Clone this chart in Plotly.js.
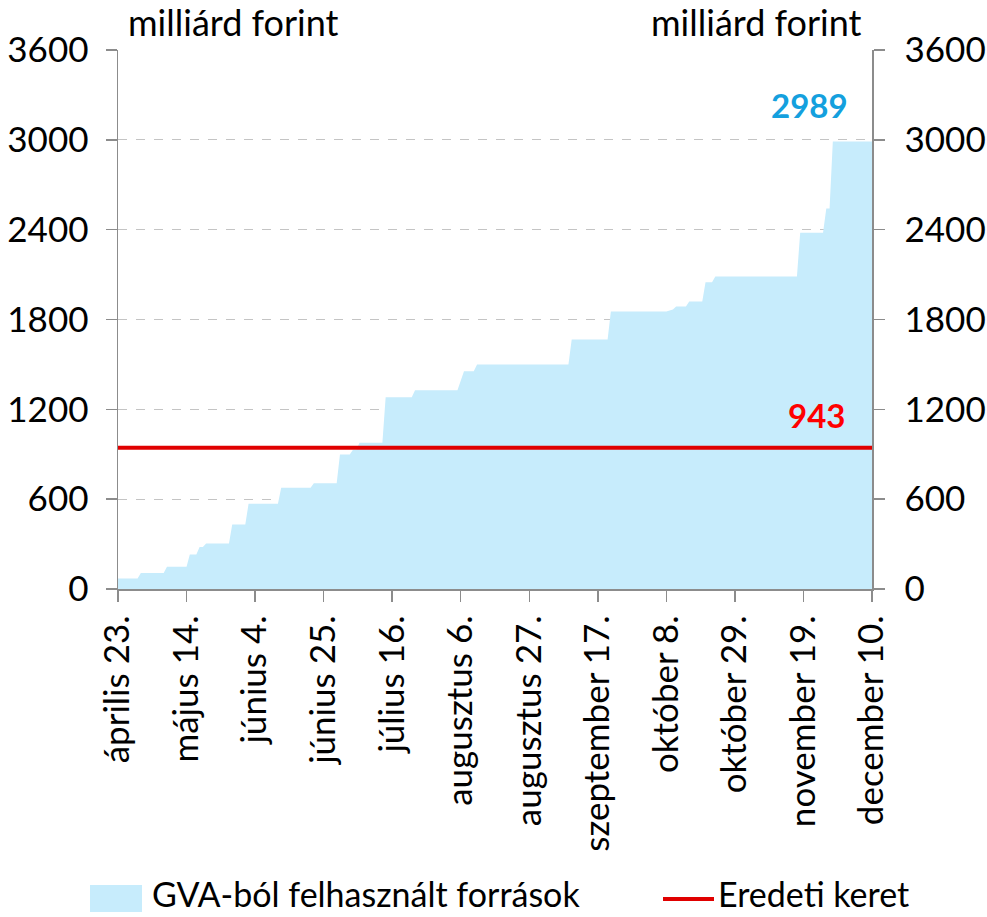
<!DOCTYPE html>
<html>
<head>
<meta charset="utf-8">
<script src="https://cdn.plot.ly/plotly-3.0.1.min.js"></script>
<style>html,body{margin:0;padding:0;background:#fff;}#chart{width:987px;height:917px;}</style>
</head>
<body>
<div id="chart"></div>
<script>
// Dates at which the cumulative amount changes (day before / day of each step)
var dates = [
  '2020-04-23','2020-04-29','2020-04-30','2020-05-07','2020-05-08','2020-05-14','2020-05-15',
  '2020-05-17','2020-05-18','2020-05-19','2020-05-20','2020-05-27','2020-05-28','2020-06-01',
  '2020-06-02','2020-06-11','2020-06-12','2020-06-21','2020-06-22','2020-06-29','2020-06-30',
  '2020-07-03','2020-07-04','2020-07-05','2020-07-06','2020-07-13','2020-07-14','2020-07-22',
  '2020-07-23','2020-08-05','2020-08-07','2020-08-10','2020-08-11','2020-09-08','2020-09-09',
  '2020-09-20','2020-09-21','2020-10-08','2020-10-10','2020-10-11','2020-10-14','2020-10-15',
  '2020-10-19','2020-10-20','2020-10-22','2020-10-23','2020-11-17','2020-11-18','2020-11-25',
  '2020-11-26','2020-11-27','2020-11-28','2020-12-10'
];
// GVA-ból felhasznált források (milliárd forint)
var usedFunds = [
  70, 70, 107, 107, 149, 149, 231,
  231, 280, 280, 304, 304, 431, 431,
  569, 569, 676, 676, 707, 707, 898,
  898, 930, 930, 976, 976, 1280, 1280,
  1327, 1327, 1455, 1455, 1500, 1500, 1667,
  1667, 1853, 1853, 1867, 1887, 1887, 1920,
  1920, 2049, 2049, 2087, 2087, 2380, 2380,
  2542, 2542, 2989, 2989
];
// Eredeti keret
var originalFrame = 943;
var frameDates = ['2020-04-23', '2020-12-10'];

var tickDates = ['2020-04-23','2020-05-14','2020-06-04','2020-06-25','2020-07-16','2020-08-06',
                 '2020-08-27','2020-09-17','2020-10-08','2020-10-29','2020-11-19','2020-12-10'];
var tickLabels = ['április 23.','május 14.','június 4.','június 25.','július 16.','augusztus 6.',
                  'augusztus 27.','szeptember 17.','október 8.','október 29.','november 19.','december 10.'];
var yTicks = [0, 600, 1200, 1800, 2400, 3000, 3600];

var seriesNames = ['GVA-ból felhasznált források', 'Eredeti keret'];
var unitLabel = 'milliárd forint';

var FONT = 'Lato, "Open Sans", "Noto Sans", sans-serif';
var AX = '#8c8c8c';
var FILL = '#c7ecfc';
var RED = '#e00000';

var traces = [
  {
    x: dates, y: usedFunds, type: 'scatter', mode: 'lines',
    fill: 'tozeroy', fillcolor: FILL, line: {width: 0, color: FILL},
    name: seriesNames[0], showlegend: false, hoverinfo: 'x+y'
  },
  {
    x: frameDates, y: [originalFrame, originalFrame], type: 'scatter', mode: 'lines',
    line: {width: 4, color: RED}, name: seriesNames[1], showlegend: false, yaxis: 'y2'
  }
];

var lastVal = usedFunds[usedFunds.length - 1];

var yCommon = {
  range: [0, 3600], tickvals: yTicks, ticktext: yTicks.map(String),
  ticks: 'outside', ticklen: 11, tickcolor: AX, tickwidth: 1.5,
  showline: true, linecolor: AX, linewidth: 1.5,
  tickfont: {family: FONT, size: 35, color: '#000'},
  zeroline: false, fixedrange: true
};

var legY = (589 - 899) / 539;

var layout = {
  width: 987, height: 917,
  margin: {l: 118, r: 115, t: 50, b: 328},
  paper_bgcolor: '#fff', plot_bgcolor: '#fff',
  showlegend: false,
  xaxis: {
    type: 'date', range: ['2020-04-23', '2020-12-10'],
    tickvals: tickDates, ticktext: tickLabels, tickangle: -90,
    ticks: 'outside', ticklen: 11, tickcolor: AX, tickwidth: 1.5,
    showline: true, linecolor: AX, linewidth: 1.5, showgrid: false, zeroline: false,
    tickfont: {family: FONT, size: 35, color: '#000'}, fixedrange: true
  },
  yaxis: Object.assign({}, yCommon, {
    showgrid: true, gridcolor: '#c4c4c4', gridwidth: 1, griddash: 'dash', side: 'left',
    ticklabelstandoff: 10
  }),
  yaxis2: Object.assign({}, yCommon, {
    overlaying: 'y', side: 'right', showgrid: false, ticklabelstandoff: 13
  }),
  annotations: [
    {xref: 'paper', yref: 'paper', x: 0.01, y: 1, yanchor: 'bottom', xanchor: 'left', yshift: 4,
     text: unitLabel, showarrow: false, font: {family: FONT, size: 36, color: '#000'}},
    {xref: 'paper', yref: 'paper', x: 0.99, y: 1, yanchor: 'bottom', xanchor: 'right', yshift: 4,
     text: unitLabel, showarrow: false, font: {family: FONT, size: 36, color: '#000'}},
    {xref: 'x', yref: 'y', x: '2020-11-21', y: lastVal, yanchor: 'bottom', xanchor: 'center', yshift: 14,
     text: '<b>' + lastVal + '</b>', showarrow: false, font: {family: FONT, size: 33, color: '#14a0de'}},
    {xref: 'x', yref: 'y', x: '2020-11-23', y: originalFrame, yanchor: 'bottom', xanchor: 'center', yshift: 11,
     text: '<b>' + originalFrame + '</b>', showarrow: false, font: {family: FONT, size: 33, color: '#ff0000'}},
    // legend texts
    {xref: 'paper', yref: 'paper', x: (150 - 118) / 754, y: (589 - 916) / 539, xanchor: 'left', yanchor: 'bottom',
     text: seriesNames[0], showarrow: false, font: {family: FONT, size: 34, color: '#000'}},
    {xref: 'paper', yref: 'paper', x: (716 - 118) / 754, y: (589 - 916) / 539, xanchor: 'left', yanchor: 'bottom',
     text: seriesNames[1], showarrow: false, font: {family: FONT, size: 34, color: '#000'}}
  ],
  shapes: [
    {type: 'rect', xref: 'paper', yref: 'paper',
     x0: (90 - 118) / 754, x1: (142 - 118) / 754, y0: (589 - 912) / 539, y1: (589 - 885) / 539,
     fillcolor: FILL, line: {width: 0}},
    {type: 'line', xref: 'paper', yref: 'paper',
     x0: (663 - 118) / 754, x1: (714 - 118) / 754, y0: legY, y1: legY,
     line: {color: RED, width: 4}}
  ]
};

Plotly.newPlot('chart', traces, layout, {displayModeBar: false, staticPlot: true});
</script>
</body>
</html>
